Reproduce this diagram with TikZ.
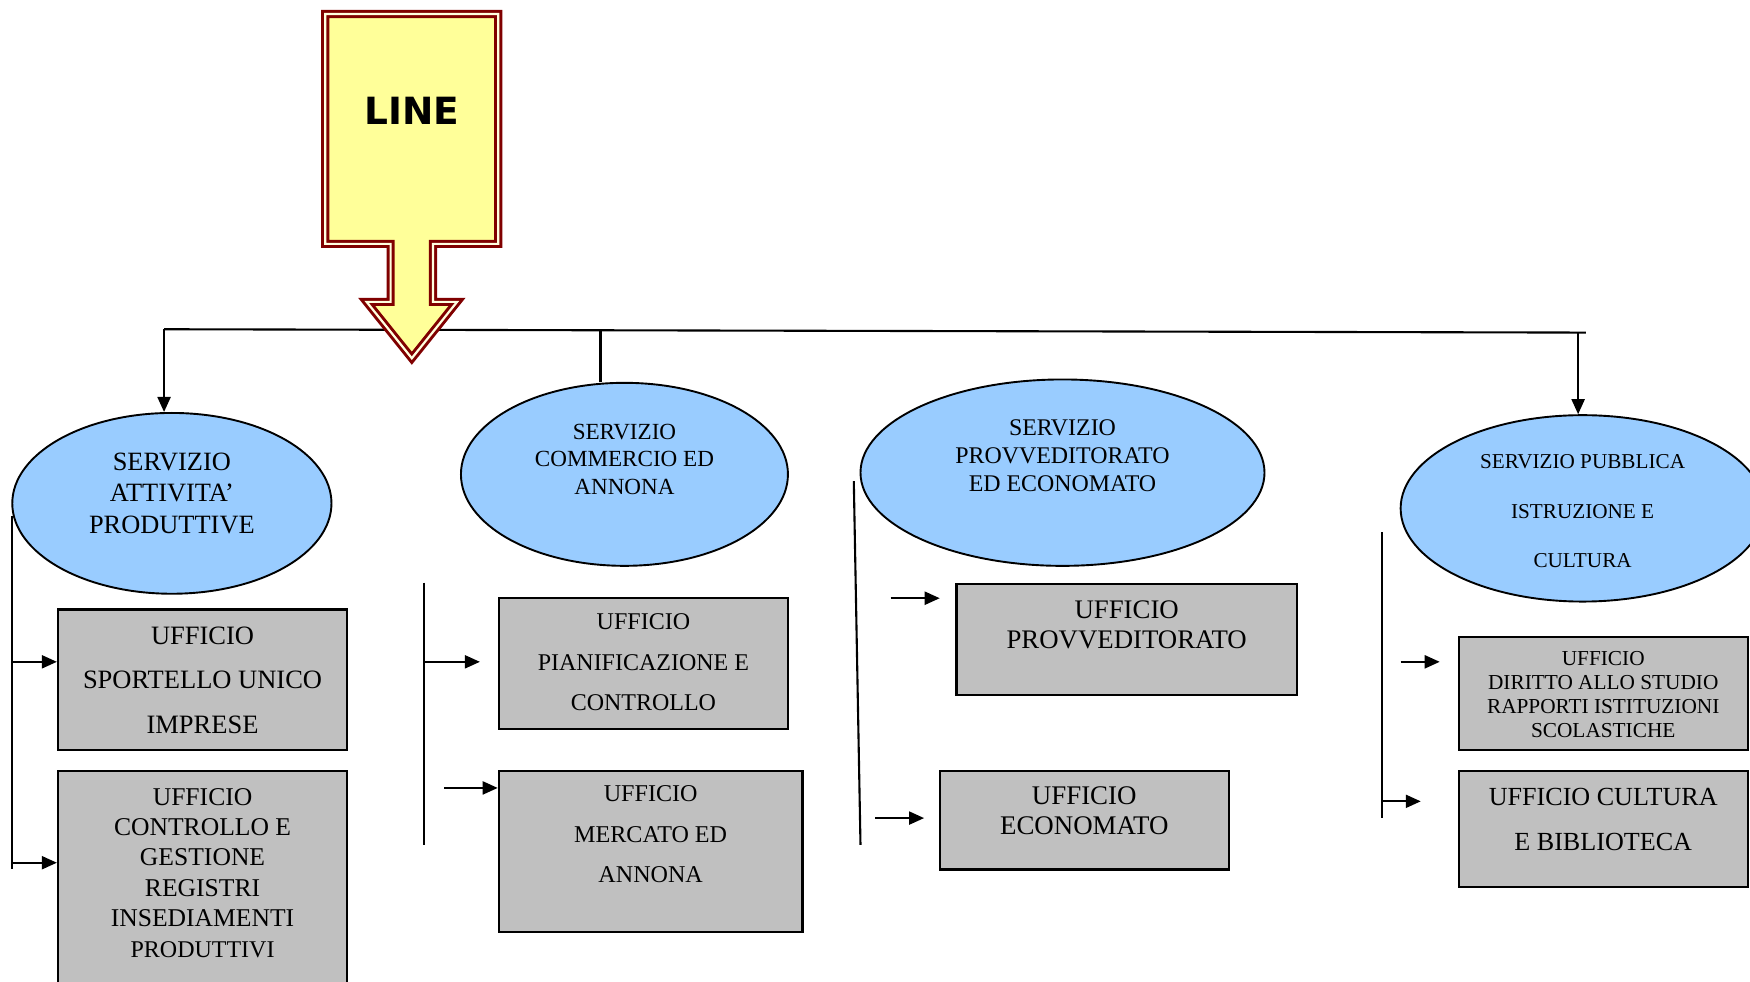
\documentclass[tikz,border=0pt]{standalone}
\usepackage{fontspec}
\setmainfont{Liberation Serif}
\newfontfamily\linefont{DejaVu Sans}
\usetikzlibrary{arrows.meta,shapes.geometric}
\definecolor{ellblue}{HTML}{99CCFF}
\definecolor{boxgray}{HTML}{C0C0C0}
\definecolor{lineyellow}{HTML}{FFFF99}
\definecolor{linered}{HTML}{800000}
\definecolor{linegap}{HTML}{FFFFE0}
\begin{document}
\begin{tikzpicture}[x=1.11607pt,y=-1.11607pt,
  ell/.style={ellipse, draw=black, line width=1.9pt, fill=ellblue, inner sep=0pt},
  ubox/.style={rectangle, draw=black, line width=2.3pt, fill=boxgray, inner sep=0pt},
  txt/.style={inner sep=0pt, align=center, text=black},
  conn/.style={line width=2.1pt, draw=black},
  arr/.style={-{Triangle[length=15pt,width=13pt]}},
  bigarrow/.style={fill=lineyellow, draw=linered, line width=3pt, double=linegap, double distance=2.2pt, line join=miter}
]
\useasboundingbox (0,0) rectangle (1568,879);
\clip (0,0) rectangle (1568,879);

% ---- top connector line ----
\coordinate (hL) at (147,295);
\coordinate (hR) at (1421,298);
\coordinate (hM) at (538,295.6);
\coordinate (hA) at (1414,297.9);
\draw[conn] (hL) -- (hR);

% ---- LINE arrow ----
\draw[bigarrow] (291.5,12.5) -- (446.5,12.5) -- (446.5,218.5) -- (388,218.5) -- (388,270.5) -- (409.5,270.5)
  -- (369,321) -- (328.5,270.5) -- (350,270.5) -- (350,218.5) -- (291.5,218.5) -- cycle;
\node[txt, font=\linefont\bfseries\fontsize{37.5}{40}\selectfont] (linetxt) at (369,99) {LINE};

% ---- ellipses ----
\node[ell, minimum width=319.2pt, minimum height=180.8pt] (e1) at (154,451) {};
\node[ell, minimum width=327.0pt, minimum height=183.0pt] (e2) at (559.5,425) {};
\node[ell, minimum width=404.0pt, minimum height=186.4pt] (e3) at (952,423.5) {};
\node[ell, minimum width=363.9pt, minimum height=186.4pt] (e4) at (1418,455.5) {};

\node[txt, font=\fontsize{26.4}{31.2}\selectfont] (t1) at (154,442) {SERVIZIO\\ATTIVITA’\\PRODUTTIVE};
\node[txt, font=\fontsize{23.1}{27.3}\selectfont] (t2) at (559.5,411.5) {SERVIZIO\\COMMERCIO ED\\ANNONA};
\node[txt, font=\fontsize{23.9}{27.9}\selectfont] (t3) at (952,408) {SERVIZIO\\PROVVEDITORATO\\ED ECONOMATO};
\node[txt, font=\fontsize{21.2}{49.1}\selectfont] (t4) at (1418,458) {SERVIZIO PUBBLICA\\ISTRUZIONE E\\CULTURA};

% ---- boxes ----
\node[ubox, minimum width=289.1pt, minimum height=140.6pt] (b1) at (181.5,609) {};
\node[ubox, minimum width=289.1pt, minimum height=233.3pt] (b2) at (181.5,795.5) {};
\node[ubox, minimum width=289.1pt, minimum height=130.6pt] (b3) at (576.5,594.5) {};
\node[ubox, minimum width=303.6pt, minimum height=160.7pt] (b4) at (583,763) {};
\node[ubox, minimum width=340.4pt, minimum height=111.6pt] (b5) at (1009.5,573) {};
\node[ubox, minimum width=289.1pt, minimum height=98.2pt] (b6) at (971.5,735) {};
\node[ubox, minimum width=289.1pt, minimum height=112.7pt] (b7) at (1436.5,621.5) {};
\node[ubox, minimum width=289.1pt, minimum height=116.1pt] (b8) at (1436.5,743) {};

\node[txt, font=\fontsize{26.5}{44.6}\selectfont] (u1) at (181.5,609.5) {UFFICIO\\SPORTELLO UNICO\\IMPRESE};
\node[txt, font=\fontsize{25.6}{30.4}\selectfont] (u2) at (181.5,782) {UFFICIO\\CONTROLLO E\\GESTIONE\\REGISTRI\\INSEDIAMENTI\\{\fontsize{24}{29}\selectfont PRODUTTIVI}};
\node[txt, font=\fontsize{24}{40.7}\selectfont] (u3) at (576.5,593.5) {UFFICIO\\PIANIFICAZIONE E\\CONTROLLO};
\node[txt, font=\fontsize{24.1}{40.7}\selectfont] (u4) at (583,747.5) {UFFICIO\\MERCATO ED\\ANNONA};
\node[txt, font=\fontsize{26.8}{30.1}\selectfont] (u5) at (1009.5,559.5) {UFFICIO\\PROVVEDITORATO};
\node[txt, font=\fontsize{26.9}{30.1}\selectfont] (u6) at (971.5,726.5) {UFFICIO\\ECONOMATO};
\node[txt, font=\fontsize{21.3}{24.0}\selectfont] (u7) at (1436.5,622) {UFFICIO\\DIRITTO ALLO STUDIO\\RAPPORTI ISTITUZIONI\\SCOLASTICHE};
\node[txt, font=\fontsize{26.1}{44.6}\selectfont] (u8) at (1436.5,734) {UFFICIO CULTURA\\E BIBLIOTECA};

% ---- connectors from the top line ----
\draw[conn, arr] (hL) -- (hL |- e1.north);
\draw[conn] (hM) -- (hM |- e2.north);
\draw[conn, arr] (hA) -- (hA |- e4.north);

% ---- column 1 ----
\coordinate (v1t) at (11,462);
\coordinate (v1e) at (11,779);
\coordinate (v1a) at (11,593);
\coordinate (v1b) at (11,773);
\draw[conn] (v1t) -- (v1e);
\draw[conn, arr] (v1a) -- (v1a -| b1.west);
\draw[conn, arr] (v1b) -- (v1b -| b2.west);

% ---- column 2 ----
\coordinate (v2t) at (380,522);
\coordinate (v2e) at (380,757);
\coordinate (v2a) at (380,593);
\coordinate (v2aend) at (430,593);
\coordinate (v2b) at (398,706);
\draw[conn] (v2t) -- (v2e);
\draw[conn, arr] (v2a) -- (v2aend);
\draw[conn, arr] (v2b) -- (v2b -| b4.west);

% ---- column 3 ----
\coordinate (v3t) at (765,431);
\coordinate (v3e) at (771,757);
\coordinate (v3a) at (798,536);
\coordinate (v3aend) at (842,536);
\coordinate (v3b) at (784,733);
\coordinate (v3bend) at (828,733);
\draw[conn] (v3t) -- (v3e);
\draw[conn, arr] (v3a) -- (v3aend);
\draw[conn, arr] (v3b) -- (v3bend);

% ---- column 4 ----
\coordinate (v4t) at (1238,477);
\coordinate (v4e) at (1238,733);
\coordinate (v4a) at (1255,593);
\coordinate (v4aend) at (1290,593);
\coordinate (v4b) at (1238,718);
\coordinate (v4bend) at (1273,718);
\draw[conn] (v4t) -- (v4e);
\draw[conn, arr] (v4a) -- (v4aend);
\draw[conn, arr] (v4b) -- (v4bend);
\end{tikzpicture}
\end{document}
